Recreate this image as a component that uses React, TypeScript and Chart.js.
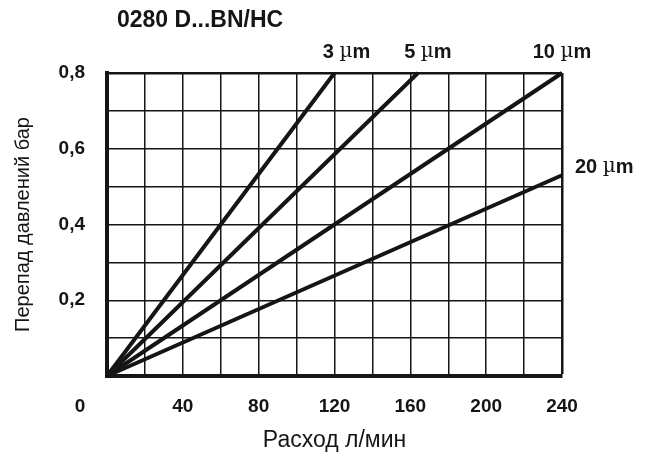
import { useEffect, useRef } from 'react';
import { Chart, registerables } from 'chart.js';

Chart.register(...registerables);

// ---- data ----
const CHART_TITLE = '0280 D...BN/HC';
const X_TITLE = 'Расход л/мин';
const Y_TITLE = 'Перепад давлений бар';

const seriesNames = ['3', '5', '10', '20']; // filter fineness, µm
const series3um = [{ x: 0, y: 0 }, { x: 120, y: 0.8 }];
const series5um = [{ x: 0, y: 0 }, { x: 164, y: 0.8 }];
const series10um = [{ x: 0, y: 0 }, { x: 240, y: 0.8 }];
const series20um = [{ x: 0, y: 0 }, { x: 240, y: 0.53 }];

const xMin = 0, xMax = 240, xStep = 20, xLabelEvery = 40;
const yMin = 0, yMax = 0.8, yStep = 0.1;

// ---- style ----
const FONT = '"Liberation Sans", Arial, sans-serif';
const INK = '#151515';
const TICK_SIZE = 19;
const labelOffsets = [
  { dx: 12, dy: -21, align: 'center' },
  { dx: 10, dy: -21, align: 'center' },
  { dx: 0, dy: -21, align: 'center' },
  { dx: 13, dy: -8, align: 'left' },
];

const annotPlugin = {
  id: 'annot',
  afterDraw(chart: any) {
    const ctx = chart.ctx;
    const { left } = chart.chartArea;
    const xs = chart.scales.x;
    ctx.save();
    ctx.fillStyle = INK;
    ctx.textBaseline = 'middle';
    // title
    ctx.font = `bold 23px ${FONT}`;
    ctx.textAlign = 'left';
    ctx.fillText(CHART_TITLE, left + 10, 21);
    // corner zero
    ctx.font = `bold ${TICK_SIZE}px ${FONT}`;
    ctx.textAlign = 'center';
    ctx.fillText('0', xs.getPixelForValue(0) - 27, xs.top + 31);
    // series labels
    chart.data.datasets.forEach((ds: any, i: number) => {
      const meta = chart.getDatasetMeta(i);
      const pt = meta.data[meta.data.length - 1];
      const off = labelOffsets[i];
      const parts = [
        { t: seriesNames[i] + ' ', f: `bold 20px ${FONT}` },
        { t: 'µ', f: `20px "DejaVu Serif", serif` },
        { t: 'm', f: `bold 20px ${FONT}` },
      ];
      let total = 0;
      parts.forEach((p) => { ctx.font = p.f; total += ctx.measureText(p.t).width; });
      let x = pt.x + off.dx - (off.align === 'center' ? total / 2 : 0);
      const y = pt.y + off.dy;
      ctx.textAlign = 'left';
      parts.forEach((p) => {
        ctx.font = p.f;
        ctx.fillText(p.t, x, y);
        x += ctx.measureText(p.t).width;
      });
    });
    ctx.restore();
  },
};

export default function App() {
  const ref = useRef<HTMLCanvasElement>(null);
  useEffect(() => {
    if (!ref.current) return;
    const mk = (data: any) => ({
      data,
      borderColor: INK,
      borderWidth: 4,
      pointRadius: 0,
      fill: false,
      tension: 0,
      clip: false as any,
    });
    const chart = new Chart(ref.current, {
      type: 'line',
      data: {
        datasets: [mk(series3um), mk(series5um), mk(series10um), mk(series20um)],
      },
      plugins: [annotPlugin],
      options: {
        animation: false,
        responsive: false,
        devicePixelRatio: 1,
        layout: { padding: { top: 73, right: 88, bottom: 0, left: 0 } },
        plugins: { legend: { display: false }, tooltip: { enabled: false }, title: { display: false } },
        scales: {
          x: {
            type: 'linear',
            min: xMin,
            max: xMax,
            afterFit: (s: any) => { s.height = 83; },
            border: { display: true, color: INK, width: 4 },
            grid: {
              color: INK,
              drawTicks: false,
              lineWidth: (c: any) => (c.tick && c.tick.value === xMax ? 2.5 : 1.5),
            },
            ticks: {
              stepSize: xStep,
              autoSkip: false,
              maxRotation: 0,
              padding: 19,
              color: INK,
              font: { family: FONT, size: TICK_SIZE, weight: 'bold' },
              callback: (v: any) => (v > 0 && v % xLabelEvery === 0 ? String(v) : ''),
            },
            title: {
              display: true,
              text: X_TITLE,
              color: INK,
              font: { family: FONT, size: 23 },
              padding: { top: 0, bottom: 5 },
            },
          },
          y: {
            type: 'linear',
            min: yMin,
            max: yMax,
            afterFit: (s: any) => { s.width = 107; },
            border: { display: true, color: INK, width: 4 },
            grid: {
              color: INK,
              drawTicks: false,
              lineWidth: (c: any) => (c.tick && Math.abs(c.tick.value - yMax) < 1e-6 ? 2.5 : 1.5),
            },
            ticks: {
              stepSize: yStep,
              autoSkip: false,
              padding: 22,
              color: INK,
              font: { family: FONT, size: TICK_SIZE, weight: 'bold' },
              callback: (v: any) => {
                const n = Math.round(Number(v) * 10);
                return n > 0 && n % 2 === 0 ? (n / 10).toFixed(1).replace('.', ',') : '';
              },
            },
            title: {
              display: true,
              text: Y_TITLE,
              color: INK,
              font: { family: FONT, size: 20 },
              padding: { top: 11, bottom: 0 },
            },
          },
        },
      } as any,
    });
    return () => chart.destroy();
  }, []);
  return (
    <div style={{ position: 'fixed', left: 0, top: 0, width: 650, height: 459, background: '#fff' }}>
      <canvas ref={ref} width={650} height={459} style={{ width: 650, height: 459, display: 'block' }} />
    </div>
  );
}
